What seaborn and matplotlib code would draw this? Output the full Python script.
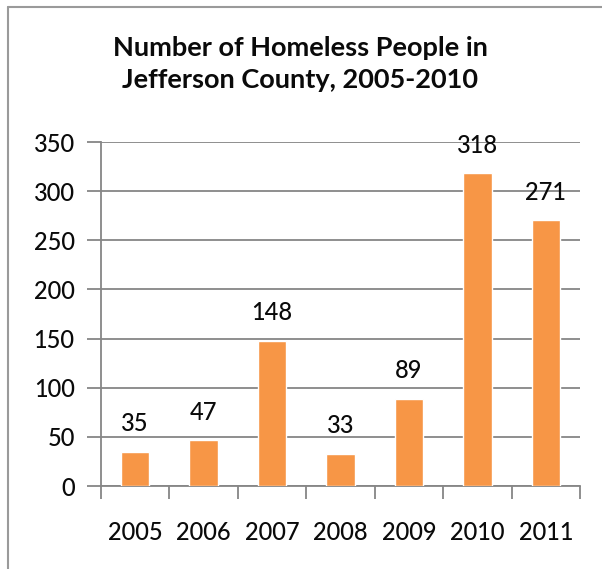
import matplotlib
matplotlib.use("Agg")
import matplotlib.pyplot as plt
from matplotlib.lines import Line2D
import seaborn as sns
import pandas as pd

years = ["2005", "2006", "2007", "2008", "2009", "2010", "2011"]
homeless = [35, 47, 148, 33, 89, 318, 271]
y_ticks = [0, 50, 100, 150, 200, 250, 300, 350]
title = "Number of Homeless People in\nJefferson County, 2005-2010"

sns.set_theme(style="white")
plt.rcParams["font.family"] = ["Lato", "DejaVu Sans"]

W, H = 602, 569
fig = plt.figure(figsize=(W / 100, H / 100), dpi=100)
ax = fig.add_axes([101 / W, 1 - 486 / H, (580 - 101) / W, (486 - 142) / H])

df = pd.DataFrame({"year": years, "count": homeless})
sns.barplot(data=df, x="year", y="count", color="#F79646", saturation=1,
            width=0.417, ax=ax, zorder=3)

grid_color = "#868686"
text_color = "#0a0a0a"
ax.set_ylim(0, 350)
ax.set_xlim(-0.5, len(years) - 0.5)
ax.set_yticks(y_ticks)
ax.yaxis.grid(True, color=grid_color, linewidth=1.3, zorder=0)
ax.set_axisbelow(True)

# category boundary ticks on the x axis
ax.set_xticks([i - 0.5 for i in range(len(years) + 1)], minor=True)
ax.tick_params(axis="x", which="minor", length=9, width=1.3, color=grid_color,
               direction="out", bottom=True)
ax.tick_params(axis="x", which="major", length=0, pad=25, labelsize=17,
               labelcolor=text_color)
ax.tick_params(axis="y", which="major", length=10, width=1.3, color=grid_color,
               direction="out", left=True, pad=9, labelsize=17,
               labelcolor=text_color)
for lbl in ax.get_xticklabels() + ax.get_yticklabels():
    lbl.set_fontweight("medium")

for side in ("top", "right"):
    ax.spines[side].set_visible(False)
for side in ("left", "bottom"):
    ax.spines[side].set_color(grid_color)
    ax.spines[side].set_linewidth(1.3)

ax.set_xlabel("")
ax.set_ylabel("")

for i, v in enumerate(homeless):
    ax.annotate(str(v), xy=(i, v), xytext=(0, 14.5), textcoords="offset points",
                ha="center", va="baseline", fontsize=17, fontweight="medium",
                color=text_color, zorder=4)

fig.text(300 / W, 1 - 36 / H, title, ha="center", va="top", fontsize=19.5,
         fontweight="bold", color=text_color, linespacing=1.42)

# outer frame (top and left edges)
frame_kw = dict(color="#9a9a9a", linewidth=1.5, transform=fig.transFigure)
fig.add_artist(Line2D([8 / W, 1], [1 - 7 / H, 1 - 7 / H], **frame_kw))
fig.add_artist(Line2D([8 / W, 8 / W], [0, 1 - 7 / H], **frame_kw))

fig.savefig("out.png", dpi=100)
